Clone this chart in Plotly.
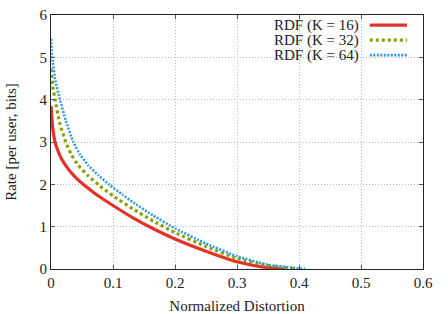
import plotly.graph_objects as go

# Data
x_k16 = [0, 0.003, 0.0065, 0.011, 0.017, 0.025, 0.033, 0.042, 0.052, 0.065, 0.079, 0.1, 0.133, 0.165, 0.2, 0.25, 0.3, 0.34, 0.377]
y_k16 = [3.85, 3.3, 3.0, 2.8, 2.6, 2.42, 2.27, 2.13, 2.0, 1.85, 1.7, 1.5, 1.2, 0.95, 0.71, 0.42, 0.17, 0.05, 0.0]

x_k32 = [0, 0.003, 0.0065, 0.014, 0.0237, 0.033, 0.044, 0.06, 0.079, 0.1, 0.133, 0.165, 0.2, 0.25, 0.3, 0.35, 0.399]
y_k32 = [4.73, 4.3, 4.0, 3.45, 3.0, 2.7, 2.45, 2.2, 1.96, 1.73, 1.41, 1.13, 0.86, 0.53, 0.25, 0.08, 0.0]

x_k64 = [0, 0.002, 0.007, 0.0145, 0.024, 0.036, 0.047, 0.06, 0.076, 0.095, 0.115, 0.133, 0.165, 0.2, 0.25, 0.3, 0.35, 0.41]
y_k64 = [5.44, 5.0, 4.45, 4.0, 3.5, 3.0, 2.7, 2.45, 2.22, 1.98, 1.76, 1.57, 1.26, 0.96, 0.6, 0.3, 0.1, 0.0]

series_names = ["RDF (K = 16)", "RDF (K = 32)", "RDF (K = 64)"]
x_ticks = [0, 0.1, 0.2, 0.3, 0.4, 0.5, 0.6]
x_tick_labels = ["0", "0.1", "0.2", "0.3", "0.4", "0.5", "0.6"]
y_ticks = [0, 1, 2, 3, 4, 5, 6]

colors = ["#e0332a", "#88a000", "#2f9ae0"]
dashes = ["solid", "3px,3px", "2px,1.5px"]
widths = [3.2, 3.2, 2.6]

FONT = "Liberation Serif"
FS = 15

fig = go.Figure()
for xs, ys, name, c, d, w in zip([x_k16, x_k32, x_k64], [y_k16, y_k32, y_k64],
                                 series_names, colors, dashes, widths):
    fig.add_trace(go.Scatter(x=xs, y=ys, mode="lines", name=name,
                             line=dict(color=c, dash=d, width=w, shape="spline", smoothing=0.4),
                             showlegend=False))

# Legend drawn manually (text left, sample right)
fig.add_shape(type="rect", xref="paper", yref="paper", x0=0.59, x1=0.98, y0=0.825, y1=1.0,
              fillcolor="white", line=dict(width=0), layer="below")
row_y = [0.96, 0.901, 0.842]
for name, c, d, w, yy in zip(series_names, colors, dashes, widths, row_y):
    fig.add_annotation(xref="paper", yref="paper", x=0.833, y=yy, text=name, showarrow=False,
                       xanchor="right", yanchor="middle", font=dict(family=FONT, size=15, color="#222"))
    fig.add_shape(type="line", xref="paper", yref="paper", x0=0.857, x1=0.957, y0=yy, y1=yy,
                  line=dict(color=c, dash=d, width=w))

axis_common = dict(showline=True, linecolor="#222", linewidth=1, mirror="ticks",
                   ticks="inside", ticklen=4, tickcolor="#555", automargin=False,
                   showgrid=True, gridcolor="#bbbbbb", griddash="1px,2px", gridwidth=1,
                   zeroline=False, tickfont=dict(family=FONT, size=FS, color="#222"))

fig.update_xaxes(range=[0, 0.6], tickvals=x_ticks, ticktext=x_tick_labels,
                 title=dict(text="Normalized Distortion", font=dict(family=FONT, size=FS, color="#222"), standoff=12),
                 **axis_common)
fig.update_yaxes(range=[0, 6], tickvals=y_ticks,
                 title=dict(text="Rate [per user, bits]", font=dict(family=FONT, size=FS, color="#222"), standoff=19),
                 **axis_common)

fig.update_layout(width=448, height=314, margin=dict(l=51, r=25, t=15, b=45),
                  plot_bgcolor="white", paper_bgcolor="white",
                  font=dict(family=FONT, size=FS, color="#222"))

fig.write_html("out.html", config={"displayModeBar": False},
               post_script="document.body.style.margin='0';")
